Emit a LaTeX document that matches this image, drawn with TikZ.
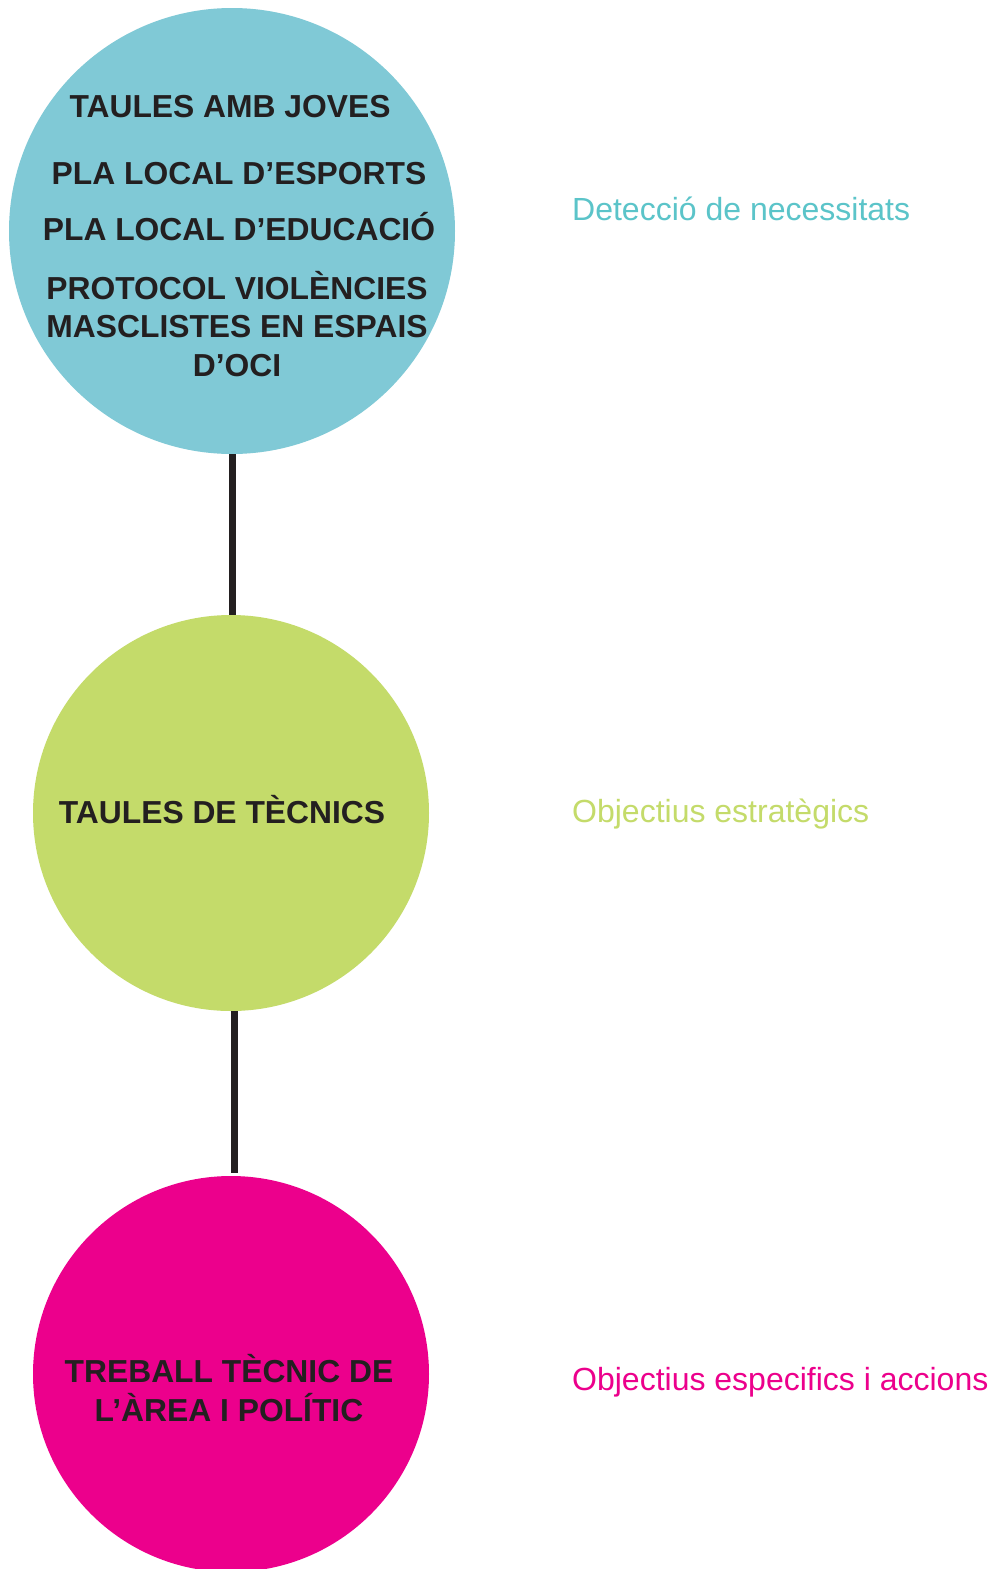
\documentclass[tikz,border=0pt]{standalone}
\usepackage{fontspec}
\setmainfont{Liberation Sans}
\definecolor{cblue}{HTML}{80C9D6}
\definecolor{cbluetxt}{HTML}{5BC4C9}
\definecolor{cgreen}{HTML}{C4DB6A}
\definecolor{cpink}{HTML}{EC008C}
\definecolor{dark}{HTML}{231F20}
\begin{document}
\begin{tikzpicture}[x=1pt,y=-1pt,
  bubble/.style={circle,inner sep=0pt,draw=none},
  intext/.style={anchor=base,text=dark,font=\bfseries\fontsize{31.8}{36}\selectfont,inner sep=0pt},
  sidelabel/.style={anchor=base west,font=\fontsize{32}{36}\selectfont,inner sep=0pt},
  link/.style={draw=dark,line width=7pt}]
\useasboundingbox (0,0) rectangle (992,1569);
\path[fill=white] (0,0) rectangle (992,1569);
\node[bubble,fill=cblue,minimum size=446pt] (c1) at (232,231) {};
\node[bubble,fill=cgreen,minimum size=396pt] (c2) at (231,813) {};
\node[bubble,fill=cpink,minimum size=396pt] (c3) at (231,1374) {};
\draw[link] (c1.south) -- (c1.south |- c2.north);
\draw[link] ([xshift=3pt]c2.south) -- ([xshift=3pt,yshift=3pt]c2.south |- c3.north);
\node[intext] (t1) at (230,117) {TAULES AMB JOVES};
\node[intext] (t2) at (239,184) {PLA LOCAL D’ESPORTS};
\node[intext] (t3) at (239,240) {PLA LOCAL D’EDUCACIÓ};
\node[intext] (t4) at (237,299) {PROTOCOL VIOLÈNCIES};
\node[intext] (t5) at (237,337) {MASCLISTES EN ESPAIS};
\node[intext] (t6) at (237,376) {D’OCI};
\node[intext] (t7) at (222,823) {TAULES DE TÈCNICS};
\node[intext] (t8) at (229,1382) {TREBALL TÈCNIC DE};
\node[intext] (t9) at (229,1421) {L’ÀREA I POLÍTIC};
\node[sidelabel,text=cbluetxt] (l1) at (572,220) {Detecció de necessitats};
\node[sidelabel,text=cgreen] (l2) at (572,822) {Objectius estratègics};
\node[sidelabel,text=cpink] (l3) at (572,1390) {Objectius especifics i accions};
\end{tikzpicture}
\end{document}
